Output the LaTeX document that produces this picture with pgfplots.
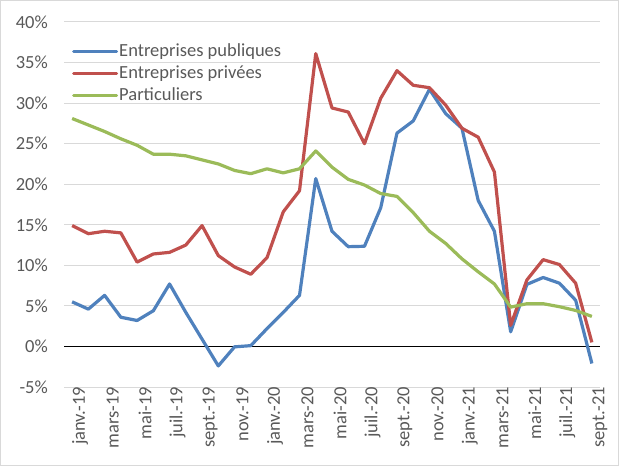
\documentclass[border=0pt]{standalone}
\usepackage{pgfplots}
\pgfplotsset{compat=1.18}
\usepackage{pgfplotstable}
\usepackage{fontspec}
\setmainfont{Carlito}
\definecolor{cblue}{HTML}{4F81BD}
\definecolor{cred}{HTML}{C0504D}
\definecolor{cgreen}{HTML}{9BBB59}
\definecolor{cgrid}{HTML}{D9D9D9}
\definecolor{ctext}{HTML}{595959}
\pgfplotstableread{
idx pub priv part
0 5.5 14.9 28.1
1 4.6 13.9 27.3
2 6.3 14.2 26.5
3 3.6 14.0 25.6
4 3.2 10.4 24.8
5 4.4 11.4 23.7
6 7.7 11.6 23.7
7 4.2 12.5 23.5
8 0.9 14.9 23.0
9 -2.4 11.2 22.5
10 -0.05 9.8 21.7
11 0.1 8.9 21.3
12 2.2 10.95 21.9
13 4.2 16.6 21.4
14 6.3 19.2 21.9
15 20.7 36.1 24.1
16 14.2 29.4 22.1
17 12.3 28.9 20.6
18 12.35 25.0 19.9
19 17.1 30.6 18.85
20 26.3 34.0 18.5
21 27.8 32.2 16.5
22 31.7 31.9 14.2
23 28.7 29.75 12.7
24 26.9 26.9 10.8
25 18.0 25.8 9.2
26 14.2 21.5 7.7
27 1.8 2.6 4.85
28 7.65 8.2 5.27
29 8.5 10.7 5.27
30 7.8 10.1 4.9
31 5.7 7.8 4.44
32 -2.1 0.5 3.7
}\data
\begin{document}
\begin{tikzpicture}
\useasboundingbox (-64bp,-79bp) rectangle (555bp,387bp);
\draw[cgrid, line width=1.5bp] (-63.25bp,-78.25bp) rectangle (554.25bp,386.25bp);
\begin{axis}[
  at={(0,0)}, anchor=south west,
  scale only axis, width=536bp, height=365bp,
  xmin=-0.5, xmax=32.5, ymin=-5, ymax=40,
  axis line style={draw=none},
  major tick length=0,
  ytick={-5,0,...,40},
  yticklabel={\pgfmathprintnumber{\tick}\%},
  /pgf/number format/assume math mode=true,
  yticklabel style={anchor=east, inner sep=0pt, xshift=-16bp, text=ctext, font=\fontsize{18.5bp}{22bp}\selectfont},
  xtick={0,2,...,32},
  xticklabels={janv.-19,mars-19,mai-19,juil.-19,sept.-19,nov.-19,janv.-20,mars-20,mai-20,juil.-20,sept.-20,nov.-20,janv.-21,mars-21,mai-21,juil.-21,sept.-21},
  xticklabel style={rotate=90, anchor=east, inner sep=0pt, yshift=-8bp, text=ctext, font=\fontsize{18.5bp}{22bp}\selectfont},
  ymajorgrids, grid style={cgrid, line width=1bp},
  extra y ticks={0}, extra y tick labels={},
  extra y tick style={grid style={black, line width=1.6bp}},
  legend style={at={(rel axis cs:0.015,0.947)}, anchor=north west, draw=none, fill=none,
    inner sep=0pt, row sep=2.5bp, text=ctext, font=\fontsize{18.5bp}{22bp}\selectfont,
    nodes={inner sep=1bp, text height=13.5bp, text depth=4bp}},
  legend cell align=left,
  legend image code/.code={\draw[#1, line width=3bp, line cap=round] (0bp,0bp) -- (43bp,0bp);},
  every axis plot/.append style={line width=3.2bp, line join=round, no marks},
]
\addplot[cblue] table[x=idx, y=pub] {\data};
\addlegendentry{Entreprises publiques}
\addplot[cred] table[x=idx, y=priv] {\data};
\addlegendentry{Entreprises privées}
\addplot[cgreen] table[x=idx, y=part] {\data};
\addlegendentry{Particuliers}
\end{axis}
\end{tikzpicture}
\end{document}
